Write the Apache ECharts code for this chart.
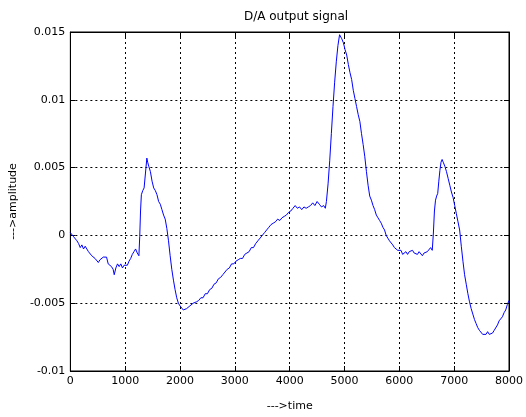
<!DOCTYPE html>
<html>
<head>
<meta charset="utf-8">
<script src="https://cdn.jsdelivr.net/npm/echarts@6/dist/echarts.min.js"></script>
<style>
  html, body { margin: 0; padding: 0; background: #fff; }
  #chart { width: 526px; height: 417px; }
</style>
</head>
<body>
<div id="chart"></div>
<script>
// D/A converter output, sampled over time
const timeSamples = [
  0, 30, 60, 90, 120, 150, 180, 210, 240, 270, 300, 330, 360, 390, 420, 450, 480, 510, 540, 570,
  600, 630, 660, 690, 720, 750, 780, 800, 830, 860, 890, 920, 950, 980, 1010, 1040, 1070, 1100, 1130, 1160,
  1190, 1220, 1250, 1265, 1280, 1295, 1320, 1345, 1370, 1395, 1410, 1430, 1460, 1490, 1520, 1550, 1580, 1610, 1640, 1670,
  1700, 1730, 1760, 1790, 1820, 1850, 1880, 1910, 1940, 1970, 2000, 2030, 2060, 2090, 2120, 2150, 2180, 2210, 2240, 2270,
  2300, 2340, 2380, 2420, 2460, 2500, 2540, 2580, 2620, 2660, 2700, 2740, 2780, 2820, 2860, 2900, 2940, 2980, 3020, 3060,
  3100, 3140, 3180, 3220, 3260, 3300, 3340, 3380, 3420, 3460, 3500, 3540, 3580, 3620, 3660, 3700, 3740, 3780, 3820, 3860,
  3900, 3940, 3980, 4020, 4060, 4100, 4140, 4180, 4220, 4260, 4300, 4340, 4380, 4420, 4460, 4500, 4540, 4580, 4620, 4650,
  4670, 4700, 4730, 4760, 4790, 4820, 4850, 4880, 4910, 4930, 4950, 4980, 5010, 5040, 5070, 5100, 5130, 5160, 5190, 5220,
  5250, 5280, 5310, 5340, 5370, 5400, 5430, 5460, 5490, 5520, 5550, 5580, 5610, 5640, 5670, 5700, 5730, 5760, 5790, 5820,
  5850, 5880, 5910, 5940, 5970, 6000, 6030, 6060, 6090, 6120, 6150, 6180, 6210, 6240, 6270, 6300, 6330, 6360, 6390, 6420,
  6450, 6480, 6510, 6540, 6570, 6600, 6620, 6640, 6660, 6680, 6700, 6720, 6740, 6760, 6780, 6800, 6830, 6860, 6890, 6920,
  6950, 6980, 7010, 7040, 7070, 7100, 7130, 7160, 7190, 7220, 7250, 7280, 7310, 7340, 7370, 7400, 7430, 7460, 7490, 7520,
  7550, 7580, 7610, 7640, 7670, 7700, 7730, 7760, 7790, 7820, 7850, 7880, 7910, 7940, 7970, 8000
];

const amplitude = [
  0.0002, 0.0001, -0.0001, -0.0002, -0.0004, -0.0006, -0.0009, -0.0007, -0.0010, -0.0008, -0.0009, -0.0012, -0.0011, -0.0015, -0.0014, -0.0017, -0.0018, -0.0020, -0.0018, -0.0019,
  -0.0016, -0.0015, -0.0016, -0.0021, -0.0020, -0.0023, -0.0025, -0.0029, -0.0024, -0.0021, -0.0023, -0.0021, -0.0024, -0.0022, -0.0021, -0.0022, -0.0019, -0.0017, -0.0014, -0.0012,
  -0.0010, -0.0013, -0.0015, -0.0001, 0.0018, 0.0030, 0.0033, 0.0035, 0.0046, 0.0057, 0.0054, 0.0051, 0.0047, 0.0040, 0.0035, 0.0033, 0.0030, 0.0025, 0.0023, 0.0019,
  0.0015, 0.0012, 0.0005, -0.0004, -0.0015, -0.0025, -0.0033, -0.0040, -0.0046, -0.0050, -0.0052, -0.0053, -0.0055, -0.0056, -0.0054, -0.0055, -0.0052, -0.0053, -0.0050, -0.0051,
  -0.0049, -0.0048, -0.0046, -0.0046, -0.0043, -0.0043, -0.0040, -0.0039, -0.0036, -0.0035, -0.0032, -0.0031, -0.0029, -0.0027, -0.0025, -0.0024, -0.0021, -0.0021, -0.0019, -0.0018,
  -0.0017, -0.0017, -0.0014, -0.0013, -0.0012, -0.0009, -0.0009, -0.0006, -0.0004, -0.0002, 0.0000, 0.0002, 0.0004, 0.0006, 0.0008, 0.0009, 0.0010, 0.0012, 0.0011, 0.0013,
  0.0014, 0.0015, 0.0017, 0.0018, 0.0020, 0.0022, 0.0020, 0.0021, 0.0019, 0.0021, 0.0020, 0.0021, 0.0022, 0.0024, 0.0022, 0.0025, 0.0023, 0.0021, 0.0022, 0.0020,
  0.0025, 0.0038, 0.0055, 0.0075, 0.0095, 0.0113, 0.0128, 0.0140, 0.0148, 0.0147, 0.0145, 0.0142, 0.0137, 0.0133, 0.0126, 0.0120, 0.0115, 0.0107, 0.0101, 0.0095,
  0.0089, 0.0084, 0.0075, 0.0067, 0.0058, 0.0047, 0.0037, 0.0029, 0.0026, 0.0022, 0.0019, 0.0015, 0.0013, 0.0011, 0.0009, 0.0006, 0.0004, 0.0000, -0.0002, -0.0004,
  -0.0005, -0.0007, -0.0009, -0.0010, -0.0011, -0.0012, -0.0011, -0.0014, -0.0013, -0.0012, -0.0014, -0.0012, -0.0013, -0.0011, -0.0013, -0.0012, -0.0014, -0.0012, -0.0013, -0.0015,
  -0.0013, -0.0014, -0.0012, -0.0011, -0.0009, -0.0011, 0.0001, 0.0018, 0.0026, 0.0029, 0.0031, 0.0040, 0.0048, 0.0054, 0.0056, 0.0054, 0.0051, 0.0047, 0.0042, 0.0037,
  0.0032, 0.0028, 0.0022, 0.0016, 0.0010, 0.0004, -0.0008, -0.0019, -0.0029, -0.0036, -0.0043, -0.0049, -0.0054, -0.0058, -0.0062, -0.0065, -0.0068, -0.0070, -0.0071, -0.0073,
  -0.0072, -0.0073, -0.0071, -0.0073, -0.0072, -0.0072, -0.0070, -0.0069, -0.0066, -0.0063, -0.0062, -0.0060, -0.0057, -0.0055, -0.0051, -0.0048
];

const xTicks = { min: 0, max: 8000, step: 1000 };
const yTicks = { min: -0.01, max: 0.015, step: 0.005 };

const points = timeSamples.map((t, i) => [t, amplitude[i]]);

const font = 'DejaVu Sans, Liberation Sans, sans-serif';
const gridLine = { show: true, lineStyle: { color: '#000', type: [2, 3], width: 1 } };
const frame = { show: true, onZero: false, lineStyle: { color: '#000', width: 1 } };
const ticksIn = { show: true, inside: true, length: 5, lineStyle: { color: '#000' } };

const chart = echarts.init(document.getElementById('chart'), null, { renderer: 'canvas' });
chart.setOption({
  backgroundColor: '#fff',
  animation: false,
  title: {
    text: 'D/A output signal',
    left: 291, top: 6, textAlign: 'center',
    textStyle: { fontFamily: font, fontSize: 12, fontWeight: 'normal', color: '#000' }
  },
  grid: { left: 70, top: 32, width: 443, height: 350, show: true, borderColor: '#000', borderWidth: 1 },
  xAxis: [{
    type: 'value', min: xTicks.min, max: xTicks.max, interval: xTicks.step,
    name: '--->time', nameLocation: 'middle', nameGap: 30,
    nameTextStyle: { fontFamily: font, fontSize: 11, color: '#000' },
    axisLine: frame, axisTick: ticksIn, splitLine: gridLine,
    axisLabel: { fontFamily: font, fontSize: 11, color: '#000', margin: 5, showMaxLabel: true,
      formatter: v => String(v) }
  }, {
    type: 'value', position: 'top', min: xTicks.min, max: xTicks.max, interval: xTicks.step,
    axisLine: frame, axisTick: ticksIn, splitLine: { show: false }, axisLabel: { show: false }
  }],
  yAxis: [{
    type: 'value', min: yTicks.min, max: yTicks.max, interval: yTicks.step,
    name: '--->amplitude', nameLocation: 'middle', nameGap: 50,
    nameTextStyle: { fontFamily: font, fontSize: 11, color: '#000' },
    axisLine: frame, axisTick: ticksIn, splitLine: gridLine,
    axisLabel: { fontFamily: font, fontSize: 11, color: '#000', margin: 5,
      formatter: v => String(Math.round(v * 1000) / 1000) }
  }, {
    type: 'value', position: 'right', min: yTicks.min, max: yTicks.max, interval: yTicks.step,
    axisLine: frame, axisTick: ticksIn, splitLine: { show: false }, axisLabel: { show: false }
  }],
  series: [{
    type: 'line',
    data: points,
    showSymbol: false,
    lineStyle: { color: '#0000ff', width: 1 },
    clip: true
  }]
});
</script>
</body>
</html>
